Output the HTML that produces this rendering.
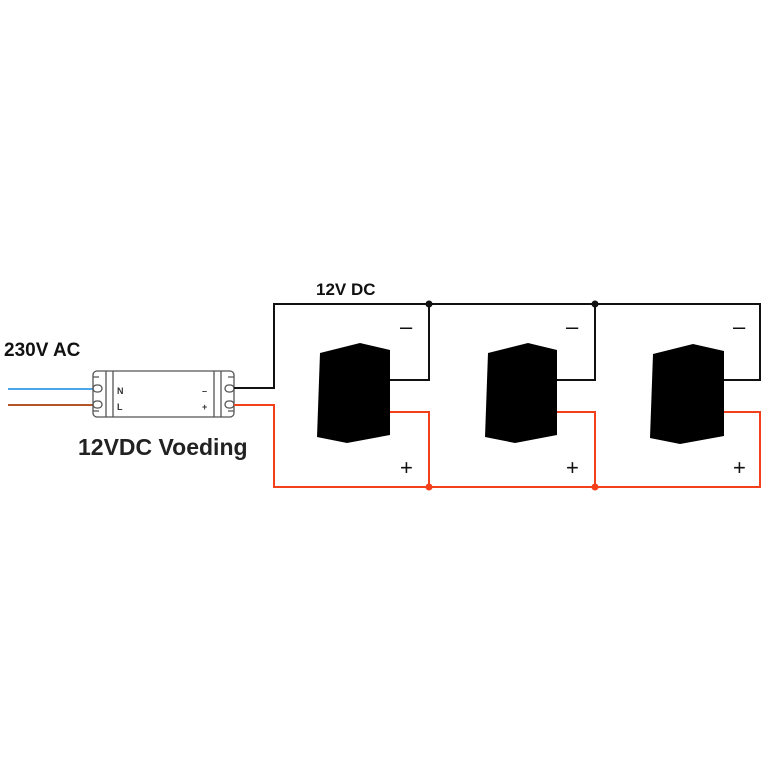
<!DOCTYPE html>
<html><head><style>body{margin:0;background:#fff}svg{display:block}</style></head>
<body>
<svg width="768" height="768" viewBox="0 0 768 768" xmlns="http://www.w3.org/2000/svg" font-family="Liberation Sans, sans-serif">
<rect width="768" height="768" fill="#fff"/>
<text x="4" y="356" font-size="19" font-weight="bold" fill="#111">230V AC</text>
<text x="78" y="455" font-size="23" font-weight="bold" fill="#222">12VDC Voeding</text>
<text x="316" y="295" font-size="17" font-weight="bold" fill="#111">12V DC</text>
<line x1="8" y1="389" x2="95" y2="389" stroke="#4aa8e8" stroke-width="2"/>
<line x1="8" y1="405" x2="95" y2="405" stroke="#b5532b" stroke-width="2"/>
<g fill="none" stroke="#555" stroke-width="1.3">
<rect x="93" y="371" width="141" height="46" rx="4" fill="#fff"/>
<line x1="106" y1="371" x2="106" y2="417"/><line x1="113" y1="371" x2="113" y2="417"/>
<line x1="214" y1="371" x2="214" y2="417"/><line x1="221" y1="371" x2="221" y2="417"/>
<rect x="93" y="385" width="9" height="7" rx="3.5"/><rect x="93" y="401" width="9" height="7" rx="3.5"/>
<rect x="225" y="385" width="9" height="7" rx="3.5"/><rect x="225" y="401" width="9" height="7" rx="3.5"/>
<path d="M93 377h6M93 411h6M228 377h6M228 411h6"/>
</g>
<text x="117" y="394" font-size="9" font-weight="bold" fill="#333">N</text>
<text x="117" y="410" font-size="9" font-weight="bold" fill="#333">L</text>
<text x="202" y="394" font-size="9" font-weight="bold" fill="#333">–</text>
<text x="202" y="410" font-size="9" font-weight="bold" fill="#333">+</text>
<g fill="none" stroke-width="2">
<path d="M234 388H274V304H760V380H720M429 304V380H390M595 304V380H557" stroke="#111"/>
<path d="M234 405H274V487H760V412H724M429 487V412H390M595 487V412H557" stroke="#f4401a"/>
</g>
<circle cx="429" cy="304" r="3.5" fill="#111"/><circle cx="595" cy="304" r="3.5" fill="#111"/>
<circle cx="429" cy="487" r="3.5" fill="#f4401a"/><circle cx="595" cy="487" r="3.5" fill="#f4401a"/>
<g fill="#000">
<polygon points="320,353 360,343 390,350 390,435 347,443 317,437"/>
<polygon points="488,353 528,343 557,350 557,435 515,443 485,437"/>
<polygon points="653,354 693,344 724,351 724,436 680,444 650,438"/>
</g>
<g font-size="22" fill="#111">
<text x="400" y="334">–</text><text x="566" y="334">–</text><text x="733" y="334">–</text>
<text x="400" y="475">+</text><text x="566" y="475">+</text><text x="733" y="475">+</text>
</g>
</svg>
</body></html>
